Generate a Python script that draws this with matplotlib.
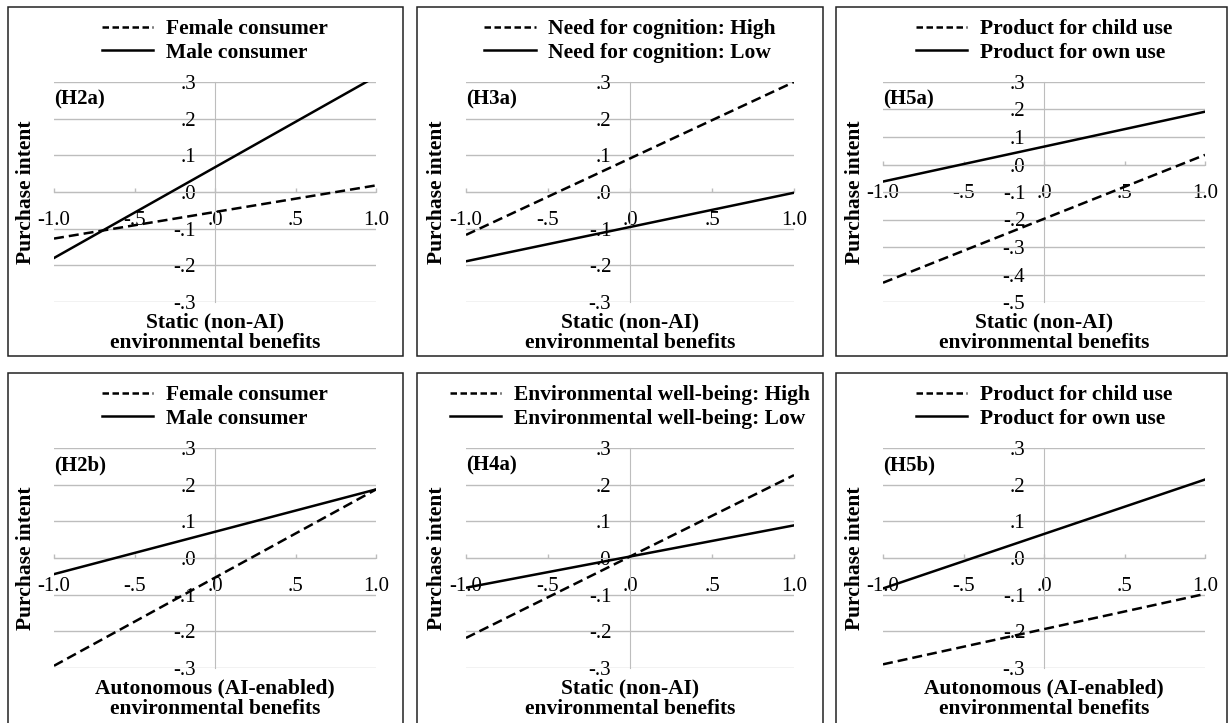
import numpy as np
import matplotlib
matplotlib.use('Agg')
import matplotlib.pyplot as plt
from matplotlib.lines import Line2D
from matplotlib.patches import Rectangle

plt.rcParams['font.family'] = ['Liberation Serif', 'DejaVu Serif']

# simple slopes at x = -1 and x = +1
x_vals = [-1.0, 1.0]

h2a_female = [-0.127, 0.018]
h2a_male = [-0.180, 0.315]
h3a_high = [-0.117, 0.300]
h3a_low = [-0.189, -0.002]
h5a_child = [-0.430, 0.035]
h5a_own = [-0.062, 0.192]

h2b_female = [-0.294, 0.187]
h2b_male = [-0.044, 0.187]
h4a_high = [-0.218, 0.226]
h4a_low = [-0.081, 0.089]
h5b_child = [-0.290, -0.098]
h5b_own = [-0.083, 0.214]

x_ticks = [-1.0, -0.5, 0.0, 0.5, 1.0]
y_ticks = [-0.3, -0.2, -0.1, 0.0, 0.1, 0.2, 0.3]
y_ticks_h5a = [-0.5, -0.4, -0.3, -0.2, -0.1, 0.0, 0.1, 0.2, 0.3]

legend_gender = ['Female consumer', 'Male consumer']
legend_nfc = ['Need for cognition: High', 'Need for cognition: Low']
legend_use = ['Product for child use', 'Product for own use']
legend_ewb = ['Environmental well-being: High', 'Environmental well-being: Low']

xlabel_static = 'Static (non-AI)\nenvironmental benefits'
xlabel_auto = 'Autonomous (AI-enabled)\nenvironmental benefits'

W, H = 1229, 723
GRID = '#bdbdbd'
DASH = (4.0, 2.0)


def fmt(v):
    s = f"{round(v, 1) + 0.0:.1f}"
    return s.replace('0.', '.')


def px_rect(x0, x1, y0, y1):
    return [x0 / W, 1 - y1 / H, (x1 - x0) / W, (y1 - y0) / H]


def draw_panel(ax, tag, dashed, solid, labels, yt, xlabel):
    ax.plot(x_vals, dashed, color='black', lw=1.8, dashes=DASH, zorder=3)
    ax.plot(x_vals, solid, color='black', lw=1.8, zorder=3)
    ax.set_xlim(-1, 1)
    ax.set_ylim(yt[0], yt[-1])

    for s in ['top', 'right']:
        ax.spines[s].set_visible(False)
    ax.spines['left'].set_position(('data', 0))
    ax.spines['bottom'].set_position(('data', 0))
    ax.spines['left'].set_color(GRID)
    ax.spines['bottom'].set_color(GRID)

    ax.set_xticks(x_ticks)
    ax.set_xticklabels([fmt(v) for v in x_ticks])
    ax.set_yticks(yt)
    ax.set_yticklabels([fmt(v) for v in yt])
    ax.tick_params(axis='x', direction='in', length=3, width=1, color=GRID,
                   pad=14, labelsize=15)
    ax.tick_params(axis='y', length=0, pad=13.5, labelsize=15)
    ax.yaxis.grid(True, color=GRID, lw=1)
    ax.set_axisbelow(True)

    handles = [Line2D([], [], color='black', lw=1.8, dashes=(2.6, 1.4)),
               Line2D([], [], color='black', lw=1.8)]
    ax.legend(handles, labels, loc='center', bbox_to_anchor=(0.5, 1.186),
              frameon=False, prop={'weight': 'bold', 'size': 15.5},
              handlelength=2.4, handletextpad=0.6, labelspacing=0.15,
              borderaxespad=0, borderpad=0)

    ax.text(0.0, 1 - 17 / 220, tag, transform=ax.transAxes, ha='left',
            va='center', fontsize=15, fontweight='bold')
    ax.text(0.5, -10 / 220, xlabel, transform=ax.transAxes, ha='center',
            va='top', fontsize=15.5, fontweight='bold', linespacing=1.05)
    ax.text(-28 / 322, 0.5, 'Purchase intent', transform=ax.transAxes,
            rotation=90, ha='center', va='center', fontsize=15.5,
            fontweight='bold')


fig = plt.figure(figsize=(W / 100, H / 100), dpi=100)

cols = [(54, 376), (466, 794), (883, 1205)]
rows = [(82, 302), (448, 668)]
box_cols = [(8, 403), (417, 823), (836, 1227)]
box_rows = [(7, 356), (373, 730)]

for bx in box_cols:
    for by in box_rows:
        fig.add_artist(Rectangle((bx[0] / W, 1 - by[1] / H),
                                 (bx[1] - bx[0]) / W, (by[1] - by[0]) / H,
                                 transform=fig.transFigure, fill=False,
                                 edgecolor='#222222', lw=1.1))

panels = [
    ('(H2a)', h2a_female, h2a_male, legend_gender, y_ticks, xlabel_static),
    ('(H3a)', h3a_high, h3a_low, legend_nfc, y_ticks, xlabel_static),
    ('(H5a)', h5a_child, h5a_own, legend_use, y_ticks_h5a, xlabel_static),
    ('(H2b)', h2b_female, h2b_male, legend_gender, y_ticks, xlabel_auto),
    ('(H4a)', h4a_high, h4a_low, legend_ewb, y_ticks, xlabel_static),
    ('(H5b)', h5b_child, h5b_own, legend_use, y_ticks, xlabel_auto),
]

for i, p in enumerate(panels):
    r, c = divmod(i, 3)
    ax = fig.add_axes(px_rect(cols[c][0], cols[c][1], rows[r][0], rows[r][1]))
    draw_panel(ax, *p)

fig.savefig('out.png', dpi=100)
